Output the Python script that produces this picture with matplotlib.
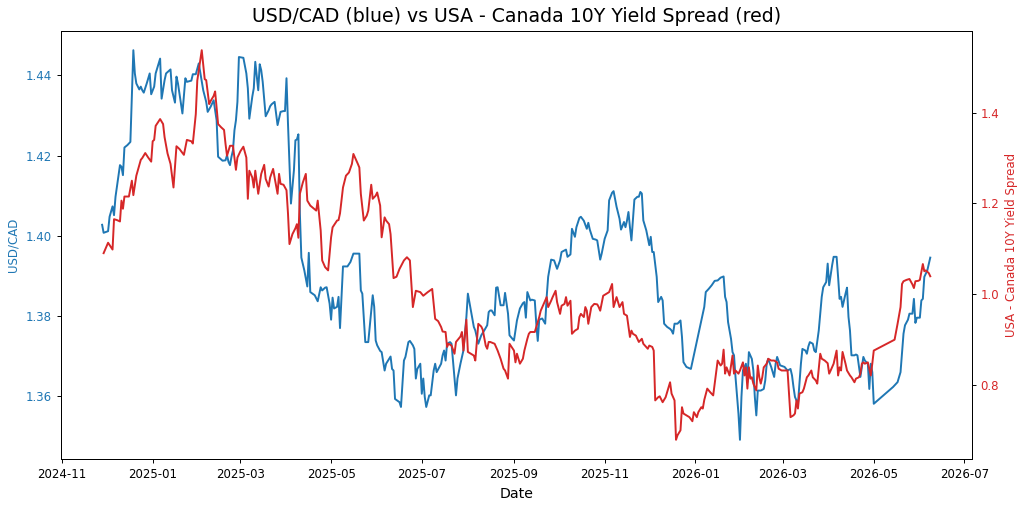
import pandas as pd
import matplotlib
matplotlib.use('Agg')
import matplotlib.pyplot as plt
import matplotlib.dates as mdates

# days counted from 2024-11-01
start = pd.Timestamp('2024-11-01')

usd_days = [
    27, 28, 31, 32, 34, 35, 36, 38, 39, 40,
    41, 42, 44, 46, 48, 49, 50, 52, 53, 54,
    55, 57, 59, 60, 62, 63, 66, 67, 69, 70,
    73, 74, 76, 77, 78, 81, 83, 84, 87, 88,
    90, 91, 92, 95, 97, 98, 100, 102, 104, 105,
    108, 110, 111, 112, 113, 114, 115, 116, 117, 118,
    119, 122, 124, 125, 126, 128, 129, 130, 132, 133,
    134, 135, 137, 139, 140, 141, 143, 145, 147, 149,
    150, 151, 152, 153, 154, 156, 157, 158, 159, 160,
    161, 163, 165, 166, 167, 170, 172, 174, 175, 177,
    178, 180, 181, 182, 183, 185, 186, 187, 189, 192,
    194, 196, 200, 201, 202, 204, 206, 209, 210, 211,
    212, 214, 215, 217, 218, 220, 221, 222, 223, 224,
    227, 228, 230, 231, 233, 234, 236, 237, 238, 239,
    241, 242, 243, 244, 245, 247, 248, 250, 251, 252,
    255, 256, 257, 258, 259, 261, 262, 264, 265, 266,
    268, 270, 272, 273, 275, 277, 278, 280, 282, 284,
    286, 287, 288, 289, 291, 292, 293, 295, 297, 298,
    300, 301, 303, 304, 306, 308, 310, 311, 312, 313,
    315, 316, 318, 319, 320, 321, 323, 325, 326, 327,
    329, 331, 333, 335, 336, 339, 340, 342, 343, 345,
    346, 348, 349, 351, 353, 354, 355, 357, 359, 360,
    362, 363, 365, 367, 368, 370, 371, 373, 375, 376,
    378, 379, 380, 381, 382, 383, 385, 387, 388, 389,
    390, 391, 393, 395, 396, 397, 398, 400, 401, 403,
    404, 405, 407, 409, 410, 411, 412, 414, 416, 417,
    418, 420, 423, 432, 433, 435, 437, 439, 441, 443,
    445, 446, 447, 448, 450, 451, 452, 453, 455, 456,
    457, 458, 460, 461, 462, 464, 465, 466, 467, 468,
    470, 472, 473, 474, 475, 477, 479, 480, 481, 483,
    486, 488, 490, 491, 492, 493, 495, 496, 497, 498,
    500, 501, 502, 503, 505, 506, 507, 509, 511, 512,
    514, 515, 516, 518, 519, 521, 522, 523, 524, 525,
    527, 528, 529, 530, 531, 533, 534, 535, 537, 538,
    539, 540, 542, 543, 544, 545, 546, 559, 562, 563,
    564, 566, 567, 569, 570, 572, 573, 574, 575, 577,
    578, 579, 580, 582, 584,
]
usd_cad = [
    1.4027, 1.4007, 1.4011, 1.4047, 1.4073, 1.4051, 1.4097, 1.4151, 1.4176, 1.4172,
    1.4151, 1.4220, 1.4226, 1.4234, 1.4463, 1.4405, 1.4380, 1.4365, 1.4372, 1.4363,
    1.4357, 1.4380, 1.4405, 1.4353, 1.4372, 1.4405, 1.4442, 1.4342, 1.4388, 1.4405,
    1.4415, 1.4363, 1.4332, 1.4397, 1.4380, 1.4305, 1.4393, 1.4384, 1.4387, 1.4403,
    1.4403, 1.4417, 1.4430, 1.4363, 1.4334, 1.4309, 1.4322, 1.4338, 1.4288, 1.4197,
    1.4187, 1.4188, 1.4201, 1.4184, 1.4176, 1.4197, 1.4213, 1.4263, 1.4288, 1.4334,
    1.4446, 1.4444, 1.4405, 1.4368, 1.4292, 1.4347, 1.4368, 1.4434, 1.4363, 1.4428,
    1.4413, 1.4384, 1.4298, 1.4313, 1.4323, 1.4328, 1.4334, 1.4276, 1.4309, 1.4311,
    1.4311, 1.4393, 1.4280, 1.4180, 1.4080, 1.4163, 1.4238, 1.4240, 1.4253, 1.4055,
    1.3945, 1.3913, 1.3873, 1.3957, 1.3859, 1.3851, 1.3836, 1.3871, 1.3863, 1.3870,
    1.3871, 1.3830, 1.3790, 1.3845, 1.3818, 1.3822, 1.3847, 1.3769, 1.3923, 1.3923,
    1.3934, 1.3955, 1.3955, 1.3863, 1.3855, 1.3734, 1.3734, 1.3851, 1.3822, 1.3738,
    1.3726, 1.3712, 1.3709, 1.3663, 1.3680, 1.3692, 1.3698, 1.3667, 1.3663, 1.3592,
    1.3584, 1.3572, 1.3688, 1.3697, 1.3734, 1.3737, 1.3726, 1.3717, 1.3643, 1.3667,
    1.3680, 1.3605, 1.3643, 1.3597, 1.3572, 1.3601, 1.3601, 1.3663, 1.3680, 1.3659,
    1.3680, 1.3701, 1.3713, 1.3688, 1.3730, 1.3734, 1.3730, 1.3643, 1.3601, 1.3643,
    1.3680, 1.3713, 1.3797, 1.3855, 1.3813, 1.3772, 1.3763, 1.3730, 1.3751, 1.3763,
    1.3776, 1.3809, 1.3813, 1.3813, 1.3801, 1.3870, 1.3871, 1.3826, 1.3826, 1.3857,
    1.3805, 1.3751, 1.3742, 1.3738, 1.3788, 1.3818, 1.3831, 1.3834, 1.3795, 1.3859,
    1.3838, 1.3840, 1.3838, 1.3780, 1.3737, 1.3790, 1.3793, 1.3780, 1.3847, 1.3897,
    1.3940, 1.3938, 1.3917, 1.3938, 1.3959, 1.3965, 1.3947, 1.3953, 1.4017, 1.3997,
    1.4021, 1.4044, 1.4047, 1.4037, 1.4017, 1.4032, 1.4015, 1.3992, 1.3990, 1.3988,
    1.3940, 1.3955, 1.3992, 1.4013, 1.4088, 1.4107, 1.4111, 1.4072, 1.4042, 1.4015,
    1.4034, 1.4021, 1.4037, 1.4059, 1.4021, 1.3988, 1.4090, 1.4097, 1.4097, 1.4109,
    1.4105, 1.4038, 1.4013, 1.3976, 1.3997, 1.3959, 1.3959, 1.3897, 1.3834, 1.3847,
    1.3838, 1.3780, 1.3772, 1.3767, 1.3763, 1.3755, 1.3780, 1.3780, 1.3788, 1.3747,
    1.3684, 1.3672, 1.3667, 1.3822, 1.3859, 1.3867, 1.3876, 1.3887, 1.3888, 1.3895,
    1.3898, 1.3847, 1.3834, 1.3784, 1.3742, 1.3709, 1.3701, 1.3647, 1.3555, 1.3490,
    1.3597, 1.3663, 1.3680, 1.3634, 1.3709, 1.3692, 1.3663, 1.3597, 1.3551, 1.3613,
    1.3613, 1.3617, 1.3638, 1.3680, 1.3692, 1.3672, 1.3647, 1.3680, 1.3697, 1.3676,
    1.3672, 1.3663, 1.3667, 1.3651, 1.3622, 1.3597, 1.3580, 1.3630, 1.3680, 1.3717,
    1.3713, 1.3705, 1.3723, 1.3734, 1.3730, 1.3713, 1.3709, 1.3763, 1.3847, 1.3871,
    1.3884, 1.3930, 1.3876, 1.3926, 1.3947, 1.3947, 1.3897, 1.3842, 1.3847, 1.3822,
    1.3855, 1.3870, 1.3797, 1.3763, 1.3701, 1.3701, 1.3703, 1.3701, 1.3647, 1.3672,
    1.3697, 1.3688, 1.3680, 1.3617, 1.3680, 1.3659, 1.3580, 1.3622, 1.3634, 1.3647,
    1.3659, 1.3755, 1.3776, 1.3790, 1.3805, 1.3805, 1.3842, 1.3782, 1.3795, 1.3795,
    1.3838, 1.3842, 1.3897, 1.3913, 1.3945,
]

spread_days = [
    28, 31, 34, 35, 37, 39, 40, 41, 42, 45,
    47, 48, 50, 53, 54, 56, 58, 60, 61, 62,
    63, 64, 66, 68, 69, 71, 73, 75, 77, 79,
    82, 84, 87, 88, 90, 91, 94, 96, 97, 99,
    100, 102, 103, 105, 107, 109, 110, 111, 113, 115,
    117, 118, 120, 122, 124, 125, 126, 128, 129, 130,
    132, 134, 136, 137, 139, 140, 142, 143, 145, 146,
    147, 149, 151, 152, 153, 155, 157, 158, 159, 160,
    162, 164, 165, 167, 171, 172, 174, 175, 177, 179,
    181, 182, 185, 186, 187, 189, 191, 193, 195, 196,
    199, 200, 201, 203, 205, 206, 208, 209, 211, 212,
    214, 215, 217, 218, 220, 221, 223, 225, 227, 230,
    232, 234, 236, 238, 241, 243, 246, 249, 251, 253,
    255, 256, 258, 259, 260, 262, 264, 265, 268, 269,
    270, 272, 273, 275, 277, 278, 280, 282, 283, 285,
    286, 287, 288, 291, 293, 295, 297, 298, 300, 301,
    304, 305, 306, 308, 310, 311, 313, 314, 315, 318,
    319, 321, 322, 324, 326, 327, 329, 330, 332, 333,
    335, 336, 338, 339, 340, 342, 343, 345, 347, 348,
    349, 351, 352, 353, 354, 356, 358, 360, 361, 362,
    364, 366, 368, 370, 371, 373, 375, 377, 378, 380,
    382, 383, 384, 386, 388, 390, 391, 394, 395, 397,
    398, 399, 401, 402, 404, 406, 409, 410, 412, 413,
    414, 416, 417, 418, 420, 422, 424, 425, 427, 428,
    430, 431, 432, 434, 436, 438, 441, 443, 444, 445,
    446, 447, 449, 450, 451, 452, 453, 455, 456, 458,
    459, 460, 461, 462, 463, 464, 465, 467, 468, 469,
    470, 471, 472, 474, 475, 477, 479, 481, 482, 484,
    487, 488, 490, 492, 493, 494, 495, 496, 498, 499,
    501, 502, 504, 505, 507, 508, 510, 511, 513, 515,
    516, 517, 519, 520, 521, 522, 523, 524, 525, 527,
    528, 530, 531, 533, 534, 536, 537, 538, 539, 540,
    542, 543, 544, 545, 546, 560, 562, 564, 565, 566,
    568, 570, 572, 573, 574, 576, 577, 579, 580, 581,
    583, 584,
]
spread = [
    1.090, 1.113, 1.098, 1.165, 1.163, 1.160, 1.206, 1.188, 1.215, 1.215,
    1.250, 1.218, 1.261, 1.296, 1.300, 1.311, 1.301, 1.292, 1.337, 1.340,
    1.371, 1.376, 1.386, 1.375, 1.346, 1.310, 1.287, 1.235, 1.326, 1.320,
    1.307, 1.340, 1.337, 1.332, 1.397, 1.471, 1.538, 1.474, 1.472, 1.419,
    1.426, 1.437, 1.447, 1.375, 1.368, 1.362, 1.331, 1.305, 1.327, 1.327,
    1.274, 1.301, 1.315, 1.325, 1.301, 1.210, 1.272, 1.257, 1.235, 1.272,
    1.221, 1.265, 1.285, 1.254, 1.237, 1.257, 1.276, 1.257, 1.221, 1.265,
    1.243, 1.241, 1.229, 1.178, 1.110, 1.132, 1.145, 1.154, 1.124, 1.221,
    1.246, 1.265, 1.206, 1.195, 1.184, 1.206, 1.140, 1.074, 1.059, 1.052,
    1.125, 1.147, 1.162, 1.163, 1.178, 1.235, 1.261, 1.268, 1.287, 1.309,
    1.287, 1.279, 1.221, 1.162, 1.173, 1.184, 1.241, 1.210, 1.217, 1.224,
    1.195, 1.125, 1.169, 1.162, 1.154, 1.132, 1.035, 1.038, 1.055, 1.074,
    1.081, 1.074, 0.971, 1.007, 1.004, 0.996, 1.004, 1.011, 0.945, 0.940,
    0.927, 0.917, 0.916, 0.883, 0.890, 0.886, 0.868, 0.894, 0.906, 0.916,
    0.875, 0.943, 0.872, 0.868, 0.864, 0.853, 0.934, 0.928, 0.921, 0.886,
    0.879, 0.894, 0.894, 0.890, 0.875, 0.857, 0.835, 0.831, 0.813, 0.890,
    0.875, 0.849, 0.868, 0.846, 0.857, 0.875, 0.901, 0.912, 0.916, 0.916,
    0.927, 0.949, 0.963, 0.978, 0.993, 0.971, 0.985, 0.993, 1.007, 0.982,
    0.956, 0.974, 0.978, 0.993, 0.974, 0.985, 0.912, 0.919, 0.923, 0.949,
    0.956, 0.949, 0.971, 0.963, 0.934, 0.971, 0.978, 0.977, 0.971, 0.963,
    0.996, 1.000, 1.004, 1.022, 0.971, 0.993, 0.971, 0.982, 0.956, 0.952,
    0.905, 0.919, 0.912, 0.908, 0.894, 0.901, 0.890, 0.879, 0.886, 0.883,
    0.875, 0.765, 0.772, 0.774, 0.761, 0.772, 0.805, 0.780, 0.765, 0.678,
    0.688, 0.699, 0.750, 0.736, 0.732, 0.728, 0.719, 0.739, 0.728, 0.739,
    0.750, 0.747, 0.766, 0.791, 0.783, 0.776, 0.853, 0.842, 0.846, 0.877,
    0.824, 0.838, 0.820, 0.842, 0.864, 0.824, 0.831, 0.824, 0.831, 0.849,
    0.820, 0.838, 0.791, 0.838, 0.813, 0.816, 0.802, 0.787, 0.842, 0.816,
    0.802, 0.816, 0.838, 0.846, 0.857, 0.853, 0.853, 0.849, 0.835, 0.831,
    0.831, 0.831, 0.728, 0.732, 0.736, 0.765, 0.747, 0.780, 0.783, 0.791,
    0.816, 0.820, 0.831, 0.816, 0.809, 0.802, 0.868, 0.857, 0.853, 0.847,
    0.824, 0.831, 0.846, 0.860, 0.875, 0.820, 0.838, 0.831, 0.872, 0.846,
    0.831, 0.820, 0.816, 0.805, 0.813, 0.816, 0.824, 0.846, 0.849, 0.846,
    0.849, 0.835, 0.820, 0.846, 0.875, 0.899, 0.934, 0.971, 1.022, 1.028,
    1.031, 1.033, 1.021, 1.013, 1.028, 1.029, 1.031, 1.066, 1.050, 1.052,
    1.046, 1.039,
]

usd_dates = start + pd.to_timedelta(usd_days, unit='D')
spread_dates = start + pd.to_timedelta(spread_days, unit='D')

blue = 'tab:blue'
red = 'tab:red'

fig = plt.figure(figsize=(10.24, 5.07), dpi=100)
ax1 = fig.add_axes([0.0593, 0.0941, 0.8896, 0.8453])
ax1.plot(usd_dates, usd_cad, color=blue, lw=1.4)
ax1.set_xlabel('Date', fontsize=10.2)
ax1.set_ylabel('USD/CAD', color=blue, fontsize=8.5)
ax1.tick_params(axis='y', labelcolor=blue)
ax1.tick_params(labelsize=8.5, length=3, width=0.7)
ax1.xaxis.set_major_locator(mdates.MonthLocator(bymonth=[1, 3, 5, 7, 9, 11]))
ax1.xaxis.set_major_formatter(mdates.DateFormatter('%Y-%m'))

ax2 = ax1.twinx()
ax2.plot(spread_dates, spread, color=red, lw=1.4)
ax2.set_ylabel('USA - Canada 10Y Yield Spread', color=red, fontsize=8.5)
ax2.tick_params(axis='y', labelcolor=red, labelsize=8.5, length=3, width=0.7)

for ax in (ax1, ax2):
    for s in ax.spines.values():
        s.set_linewidth(0.7)

ax1.set_title('USD/CAD (blue) vs USA - Canada 10Y Yield Spread (red)', fontsize=13.6)

fig.savefig('out.png', dpi=100)
